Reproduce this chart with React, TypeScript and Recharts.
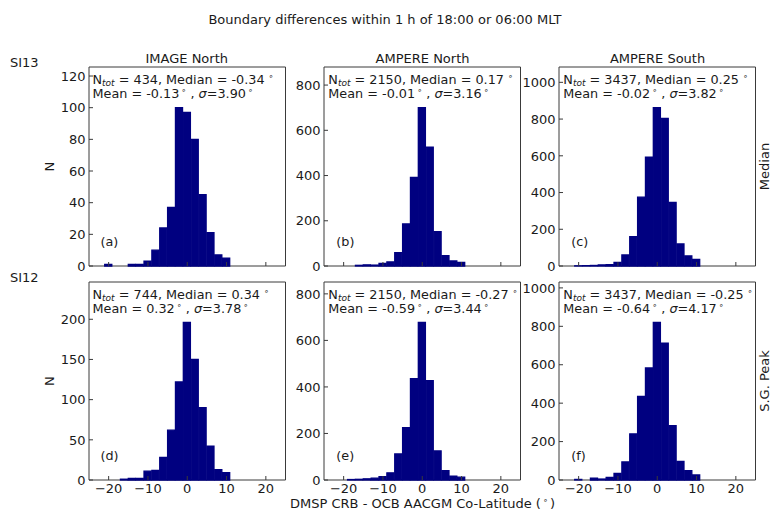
import React from 'react';
import { BarChart, Bar, XAxis, YAxis, ReferenceArea } from 'recharts';

// histogram bins, 2 deg wide, centred on even values
const binCenters = [-24, -22, -20, -18, -16, -14, -12, -10, -8, -6, -4, -2, 0, 2, 4, 6, 8, 10, 12, 14, 16, 18, 20, 22, 24];

// SI13 / Median row
const imageNorthMedian = [0, 0, 1, 0, 0, 1, 1, 3, 10, 24, 37, 100, 97, 80, 45, 21, 7, 5, 0, 0, 0, 0, 0, 0, 0];
const ampereNorthMedian = [0, 0, 0, 0, 3, 5, 4, 12, 18, 59, 186, 392, 700, 525, 152, 46, 22, 16, 0, 0, 0, 0, 0, 0, 0];
const ampereSouthMedian = [0, 0, 1, 2, 3, 6, 8, 20, 60, 160, 375, 592, 862, 803, 346, 120, 55, 36, 0, 0, 0, 0, 0, 0, 0];

// SI12 / S.G. Peak row
const imageNorthPeak = [0, 0, 0, 0, 1, 2, 2, 11, 12, 28, 62, 122, 196, 150, 90, 42, 13, 9, 0, 0, 0, 0, 0, 0, 0];
const ampereNorthPeak = [0, 0, 0, 2, 3, 5, 8, 14, 31, 112, 225, 436, 677, 427, 125, 40, 17, 12, 0, 0, 0, 0, 0, 0, 0];
const ampereSouthPeak = [0, 0, 3, 0, 10, 5, 14, 35, 94, 240, 435, 583, 820, 713, 283, 97, 49, 26, 0, 0, 0, 0, 0, 0, 0];

const xTicks = [-20, -10, 0, 10, 20];
const yTicksA = [0, 20, 40, 60, 80, 100, 120];
const yTicksB = [0, 200, 400, 600, 800];
const yTicksC = [0, 200, 400, 600, 800, 1000];
const yTicksD = [0, 50, 100, 150, 200];

const columnTitles = ['IMAGE North', 'AMPERE North', 'AMPERE South'];
const rowNames = ['SI13', 'SI12'];
const rowMethods = ['Median', 'S.G. Peak'];

const panelStats = [
  { letter: '(a)', ntot: '434', median: '-0.34', mean: '-0.13', sigma: '3.90' },
  { letter: '(b)', ntot: '2150', median: '0.17', mean: '-0.01', sigma: '3.16' },
  { letter: '(c)', ntot: '3437', median: '0.25', mean: '-0.02', sigma: '3.82' },
  { letter: '(d)', ntot: '744', median: '0.34', mean: '0.32', sigma: '3.78' },
  { letter: '(e)', ntot: '2150', median: '-0.27', mean: '-0.59', sigma: '3.44' },
  { letter: '(f)', ntot: '3437', median: '-0.25', mean: '-0.64', sigma: '4.17' },
];

const FONT = '"DejaVu Sans", Verdana, sans-serif';
const INK = '#1a1a1a';
const FRAME = '#3a3a3a';
const NAVY = '#000080';

const PLOT_W = 196.5;
const colLeft = [88.5, 324.3, 559.3];
const rowTop = [67, 282];
const rowH = [199, 198];

const ML = 50;
const MT = 10;
const MR = 10;
const XH = 30;

const fmtTick = (v: number) => (v < 0 ? `\u2212${Math.abs(v)}` : `${v}`);

const XTick = (props: any) => {
  const { x, y, payload, showLabel } = props;
  return (
    <g>
      <line x1={x} x2={x} y1={y} y2={y - 4} stroke={FRAME} strokeWidth={1} />
      {showLabel && (
        <text x={x} y={y + 13} textAnchor="middle" fontSize={13} fontFamily={FONT} fill={INK}>
          {fmtTick(payload.value)}
        </text>
      )}
    </g>
  );
};

const YTick = (props: any) => {
  const { x, y, payload } = props;
  return (
    <g>
      <line x1={x} x2={x + 4} y1={y} y2={y} stroke={FRAME} strokeWidth={1} />
      <text x={x - 3.5} y={y + 4.7} textAnchor="end" fontSize={13} fontFamily={FONT} fill={INK}>
        {payload.value}
      </text>
    </g>
  );
};

type PanelProps = {
  left: number;
  top: number;
  h: number;
  counts: number[];
  yTicks: number[];
  showXLabels: boolean;
};

function Panel({ left, top, h, counts, yTicks, showXLabels }: PanelProps) {
  const data = binCenters.map((x, i) => ({ x, n: counts[i] }));
  const yTop = Math.max(...counts) * 1.257;
  return (
    <div style={{ position: 'absolute', left: left - ML, top: top - MT }}>
      <BarChart
        width={ML + PLOT_W + MR}
        height={MT + h + XH}
        data={data}
        margin={{ top: MT, right: MR, left: 0, bottom: 0 }}
        barGap={0}
        barCategoryGap={0}
      >
        <XAxis
          dataKey="x"
          type="number"
          domain={[-25, 25]}
          ticks={xTicks}
          height={XH}
          axisLine={false}
          tickLine={false}
          tickSize={0}
          tickMargin={0}
          interval={0}
          tick={(p: any) => <XTick {...p} showLabel={showXLabels} />}
        />
        <YAxis
          type="number"
          domain={[0, yTop]}
          ticks={yTicks}
          width={ML}
          axisLine={false}
          tickLine={false}
          tickSize={0}
          tickMargin={0}
          interval={0}
          tick={(p: any) => <YTick {...p} />}
        />
        <Bar
          dataKey="n"
          fill={NAVY}
          stroke={NAVY}
          strokeWidth={1.3}
          barSize={PLOT_W / 25}
          isAnimationActive={false}
        />
        <ReferenceArea x1={-25} x2={25} y1={0} y2={yTop} fill="none" stroke={FRAME} strokeWidth={1} fillOpacity={0} />
      </BarChart>
    </div>
  );
}

function StatsText({ left, top, bottom, s }: { left: number; top: number; bottom: number; s: typeof panelStats[0] }) {
  return (
    <g fontFamily={FONT} fill={INK} fontSize={12.8}>
      <text x={left + 4} y={top + 16.5}>
        <tspan>N</tspan>
        <tspan fontSize={9} fontStyle="italic" dy={2}>tot</tspan>
        <tspan dy={-2}>{` = ${s.ntot}, Median = ${s.median}`}</tspan>
        <tspan dx={4} dy={-5} fontSize={8}>{'\u2218'}</tspan>
      </text>
      <text x={left + 4} y={top + 30.5}>
        <tspan>{`Mean = ${s.mean}`}</tspan>
        <tspan dx={2} dy={-5} fontSize={8}>{'\u2218'}</tspan>
        <tspan dy={5}>{' , '}</tspan>
        <tspan fontStyle="italic">{'\u03c3'}</tspan>
        <tspan>{`=${s.sigma}`}</tspan>
        <tspan dx={2} dy={-5} fontSize={8}>{'\u2218'}</tspan>
      </text>
      <text x={left + 12} y={bottom - 20}>{s.letter}</text>
    </g>
  );
}

export default function App() {
  const panels = [
    { counts: imageNorthMedian, yTicks: yTicksA },
    { counts: ampereNorthMedian, yTicks: yTicksB },
    { counts: ampereSouthMedian, yTicks: yTicksC },
    { counts: imageNorthPeak, yTicks: yTicksD },
    { counts: ampereNorthPeak, yTicks: yTicksB },
    { counts: ampereSouthPeak, yTicks: yTicksC },
  ];

  return (
    <div style={{ position: 'absolute', left: 0, top: 0, width: 770, height: 513, background: '#fff', overflow: 'hidden' }}>
      {panels.map((p, i) => {
        const r = Math.floor(i / 3);
        const c = i % 3;
        return (
          <Panel
            key={i}
            left={colLeft[c]}
            top={rowTop[r]}
            h={rowH[r]}
            counts={p.counts}
            yTicks={p.yTicks}
            showXLabels={r === 1}
          />
        );
      })}
      <svg width={770} height={513} style={{ position: 'absolute', left: 0, top: 0, pointerEvents: 'none' }}>
        <text x={385} y={24} textAnchor="middle" fontSize={13} fontFamily={FONT} fill={INK}>
          Boundary differences within 1 h of 18:00 or 06:00 MLT
        </text>
        {columnTitles.map((t, c) => (
          <text key={t} x={colLeft[c] + PLOT_W / 2} y={62.5} textAnchor="middle" fontSize={13} fontFamily={FONT} fill={INK}>
            {t}
          </text>
        ))}
        {rowNames.map((t, r) => (
          <text key={t} x={10} y={rowTop[r] - 0.5} fontSize={13} fontFamily={FONT} fill={INK}>
            {t}
          </text>
        ))}
        {rowMethods.map((t, r) => {
          const cy = rowTop[r] + rowH[r] / 2;
          return (
            <text key={t} x={768.5} y={cy} transform={`rotate(-90 768.5 ${cy})`} textAnchor="middle" fontSize={13} fontFamily={FONT} fill={INK}>
              {t}
            </text>
          );
        })}
        {rowTop.map((top, r) => {
          const cy = top + rowH[r] / 2;
          return (
            <text key={r} x={54} y={cy} transform={`rotate(-90 54 ${cy})`} textAnchor="middle" fontSize={13} fontFamily={FONT} fill={INK}>
              N
            </text>
          );
        })}
        {panelStats.map((s, i) => {
          const r = Math.floor(i / 3);
          const c = i % 3;
          return <StatsText key={i} left={colLeft[c]} top={rowTop[r]} bottom={rowTop[r] + rowH[r]} s={s} />;
        })}
        <text x={colLeft[1] + PLOT_W / 2} y={508} textAnchor="middle" fontSize={13} fontFamily={FONT} fill={INK}>
          <tspan>DMSP CRB - OCB AACGM Co-Latitude (</tspan>
          <tspan dx={2} dy={-5} fontSize={8}>{'\u2218'}</tspan>
          <tspan dx={2} dy={5}>)</tspan>
        </text>
      </svg>
    </div>
  );
}
